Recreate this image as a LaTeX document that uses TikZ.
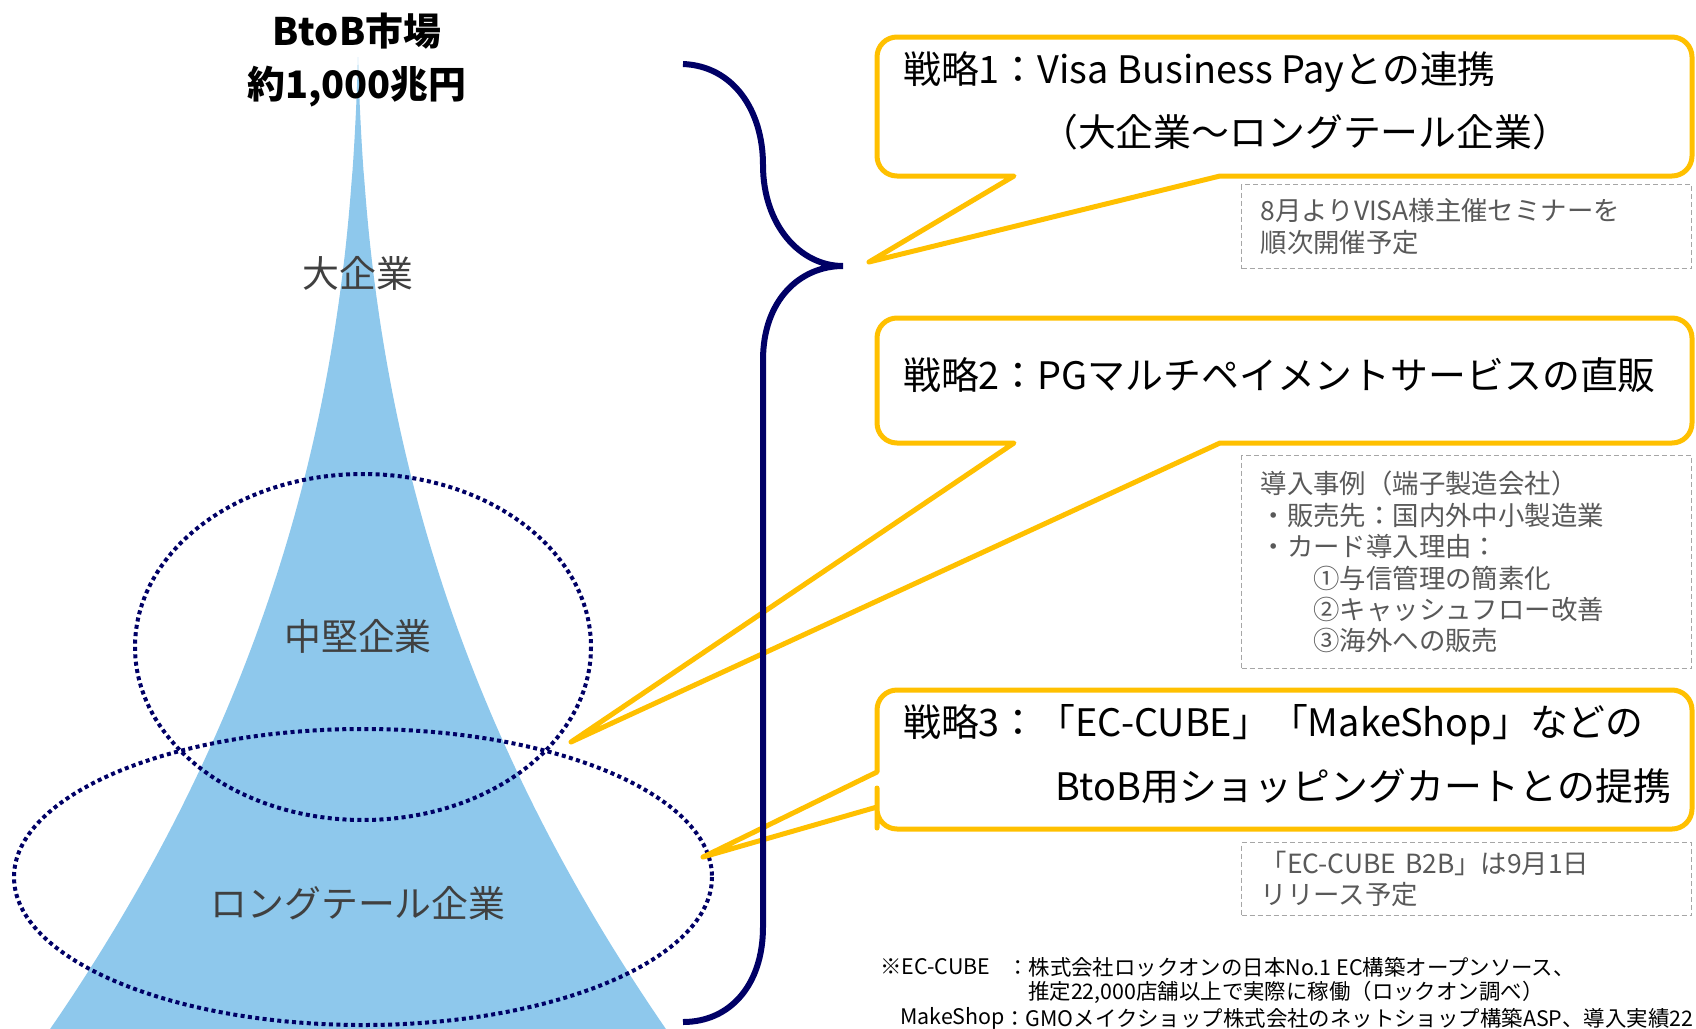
\documentclass[tikz,border=0pt]{standalone}
\usepackage{fontspec}
\setmainfont{Noto Sans CJK JP}
\definecolor{conefill}{HTML}{8EC8EC}
\definecolor{navyline}{HTML}{000066}
\definecolor{calloutline}{HTML}{FFC000}
\definecolor{notegray}{HTML}{A6A6A6}
\definecolor{segtext}{HTML}{404040}
\definecolor{notetext}{HTML}{595959}
\begin{document}
\begin{tikzpicture}[x=1bp, y=-1bp,
    seglabel/.style={text=segtext, font=\fontsize{37}{44}\selectfont},
    headline/.style={font=\fontsize{38}{46}\selectfont\bfseries},
    bubble/.style={draw=calloutline, line width=5bp, line join=round},
    bubbletext/.style={anchor=west, inner sep=0pt, font=\fontsize{38}{46}\selectfont},
    notebox/.style={draw=notegray, dash pattern=on 5bp off 3bp, line width=1.4bp, text=notetext,
        align=left, anchor=north west, text width=412bp, inner xsep=19bp, inner ysep=0pt,
        font=\fontsize{26.5}{31.5}\selectfont},
    segring/.style={draw=navyline, line width=4bp, dash pattern=on 4bp off 3.4bp},
    footnote/.style={anchor=west, inner sep=0pt, font=\fontsize{21.5}{25}\selectfont}]
            \useasboundingbox (0,0) rectangle (1696,1028);
            % market cone
            \fill[conefill] plot[domain=1:0.002, samples=80, variable=\t] ({358-280*\t^2.3-30*\t}, {57+975*\t})
                -- (358,57)
                -- plot[domain=0.002:1, samples=80, variable=\t] ({358+280*\t^2.3+30*\t}, {57+975*\t}) -- cycle;
            \node[seglabel] (large) at (358,273) {大企業};
            \node[seglabel] (midsize) at (358,636) {中堅企業};
            \node[seglabel] (longtail) at (358,903) {ロングテール企業};
            \draw[segring] (363,647) ellipse[x radius=228, y radius=173];
            \draw[segring] (363,877) ellipse[x radius=349, y radius=148];
            \node[headline] (mkt) at (357,31) {BtoB市場};
            \node[headline] (mktsize) at (357,87) {約1,000兆円};
            % callouts
            \draw[bubble] (1300,37) [rounded corners=20bp] -- (1692,37) -- (1692,176) -- (1300,176)
                [sharp corners] -- (1220,176) -- (869,262) -- (1014,176) -- (950,176)
                [rounded corners=20bp] -- (877,176) -- (877,37) -- cycle;
            \draw[bubble] (1300,318) [rounded corners=20bp] -- (1692,318) -- (1692,443) -- (1300,443)
                [sharp corners] -- (1220,443) -- (571,742) -- (1014,443) -- (950,443)
                [rounded corners=20bp] -- (877,443) -- (877,318) -- cycle;
            \draw[bubble] (1300,690) [rounded corners=20bp] -- (1692,690) -- (1692,829) -- (877,829)
                -- (877,808) [sharp corners] -- (877,807) -- (703,857) -- (877,772) -- (877,760)
                [rounded corners=20bp] -- (877,690) -- cycle;
            \node[bubbletext] (plan1a) at (903,72) {戦略1：Visa Business Payとの連携};
            \node[bubbletext] (plan1b) at (1040,132) {（大企業～ロングテール企業）};
            \node[bubbletext] (plan2) at (903,375) {戦略2：PGマルチペイメントサービスの直販};
            \node[bubbletext] (plan3a) at (903,725) {戦略3：「EC-CUBE」「MakeShop」などの};
            \node[bubbletext] (plan3b) at (1055,786) {BtoB用ショッピングカートとの提携};
            % brace
            \draw[navyline, line width=6bp] (683,64) .. controls (733,66) and (763,110) .. (763,165)
                .. controls (763,225) and (800,266) .. (843,266)
                .. controls (800,266) and (763,300) .. (763,360) -- (763,927)
                .. controls (763,985) and (730,1022) .. (683,1022);
            % notes
            \node[notebox, minimum height=84bp] (note1) at (1241,184)
                {8月よりVISA様主催セミナーを\\順次開催予定};
            \node[notebox, minimum height=213bp] (note2) at (1241,455)
                {導入事例（端子製造会社）\\・販売先：国内外中小製造業\\・カード導入理由：\\
                 \hspace*{2em}①与信管理の簡素化\\\hspace*{2em}②キャッシュフロー改善\\\hspace*{2em}③海外への販売};
            \node[notebox, minimum height=73bp] (note3) at (1241,842)
                {「EC-CUBE B2B」は9月1日\\リリース予定};
            % footnote
            \node[footnote] (fnkey1) at (880,967) {※EC-CUBE};
            \node[footnote] (fntext1) at (1007,967) {：株式会社ロックオンの日本No.1 EC構築オープンソース、};
            \node[footnote] (fntext2) at (1028,992) {推定22,000店舗以上で実際に稼働（ロックオン調べ）};
            \node[footnote] (fnkey2) at (900,1018) {MakeShop};
            \node[footnote] (fntext3) at (1004,1018) {：GMOメイクショップ株式会社のネットショップ構築ASP、導入実績22};
        \end{tikzpicture}
\end{document}
